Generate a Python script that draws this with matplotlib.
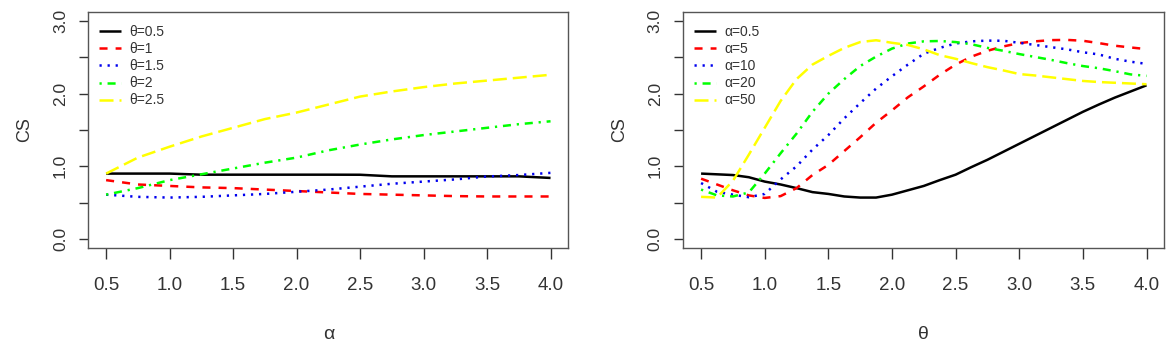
import numpy as np
import matplotlib
matplotlib.use("Agg")
import matplotlib.pyplot as plt
from matplotlib import font_manager as fm

plt.rcParams['lines.scale_dashes'] = False


def pick_font(names):
    for n in names:
        try:
            fm.findfont(fm.FontProperties(family=n), fallback_to_default=False)
            return n
        except Exception:
            pass
    return 'DejaVu Sans'


SANS = pick_font(['Liberation Sans', 'DejaVu Sans'])

# left panel: CS against alpha, one curve per theta
alpha = [0.5, 0.75, 1.0, 1.25, 1.5, 1.75, 2.0, 2.25, 2.5, 2.75, 3.0, 3.25, 3.5, 3.75, 4.0]
theta_labels = ["θ=0.5", "θ=1", "θ=1.5", "θ=2", "θ=2.5"]
cs_theta05 = [0.90, 0.90, 0.90, 0.885, 0.885, 0.885, 0.885, 0.885, 0.884, 0.862, 0.862, 0.862, 0.862, 0.862, 0.84]
cs_theta1 = [0.81, 0.75, 0.73, 0.71, 0.70, 0.68, 0.66, 0.64, 0.62, 0.61, 0.60, 0.59, 0.585, 0.585, 0.585]
cs_theta15 = [0.61, 0.58, 0.57, 0.58, 0.60, 0.62, 0.65, 0.68, 0.72, 0.76, 0.79, 0.82, 0.86, 0.88, 0.91]
cs_theta2 = [0.61, 0.70, 0.81, 0.89, 0.97, 1.05, 1.12, 1.22, 1.30, 1.37, 1.43, 1.48, 1.53, 1.58, 1.62]
cs_theta25 = [0.90, 1.12, 1.27, 1.41, 1.53, 1.65, 1.74, 1.85, 1.96, 2.03, 2.09, 2.14, 2.18, 2.22, 2.26]

# right panel: CS against theta, one curve per alpha
theta = [0.5, 0.625, 0.75, 0.875, 1.0, 1.125, 1.25, 1.375, 1.5, 1.625, 1.75, 1.875, 2.0,
         2.125, 2.25, 2.375, 2.5, 2.625, 2.75, 2.875, 3.0, 3.125, 3.25, 3.375, 3.5,
         3.625, 3.75, 3.875, 4.0]
alpha_labels = ["α=0.5", "α=5", "α=10", "α=20", "α=50"]
cs_alpha05 = [0.90, 0.89, 0.88, 0.85, 0.79, 0.75, 0.70, 0.645, 0.62, 0.585, 0.57, 0.57, 0.61,
              0.67, 0.73, 0.81, 0.885, 0.99, 1.09, 1.20, 1.31, 1.42, 1.53, 1.64, 1.75,
              1.85, 1.945, 2.03, 2.115]
cs_alpha5 = [0.83, 0.75, 0.67, 0.60, 0.565, 0.59, 0.70, 0.88, 1.02, 1.21, 1.40, 1.60, 1.77,
             1.95, 2.10, 2.26, 2.40, 2.51, 2.59, 2.65, 2.696, 2.72, 2.737, 2.74, 2.728,
             2.696, 2.66, 2.636, 2.613]
cs_alpha10 = [0.77, 0.65, 0.61, 0.575, 0.62, 0.82, 1.00, 1.23, 1.43, 1.66, 1.87, 2.07, 2.24,
              2.40, 2.55, 2.63, 2.69, 2.72, 2.73, 2.728, 2.70, 2.67, 2.64, 2.61, 2.57,
              2.54, 2.48, 2.44, 2.41]
cs_alpha20 = [0.68, 0.60, 0.585, 0.64, 0.90, 1.18, 1.45, 1.75, 2.00, 2.20, 2.38, 2.51, 2.62,
              2.69, 2.72, 2.725, 2.71, 2.68, 2.63, 2.59, 2.545, 2.505, 2.465, 2.42, 2.38,
              2.35, 2.31, 2.265, 2.245]
cs_alpha50 = [0.58, 0.57, 0.80, 1.16, 1.53, 1.90, 2.20, 2.40, 2.52, 2.63, 2.71, 2.735, 2.70,
              2.67, 2.61, 2.53, 2.48, 2.42, 2.365, 2.32, 2.27, 2.25, 2.225, 2.20, 2.175,
              2.16, 2.15, 2.14, 2.13]

colors = ["black", "#ff0000", "#0000ee", "#00ff00", "#ffff00"]
# R lty 1..5 with lwd=2, in points (1 px = 0.72 pt)
styles = [(0, ()), (0, (5.8, 5.8)), (0, (1.6, 4.2)), (0, (1.6, 4.2, 5.8, 4.2)), (0, (10.1, 4.3))]
LW = 1.8
TXT = "#333333"

fig = plt.figure(figsize=(11.73, 3.53), dpi=100)
ax1 = fig.add_axes([0.0753, 0.2983, 0.4092, 0.6669])
ax2 = fig.add_axes([0.5825, 0.2983, 0.4101, 0.6669])


def style_axes(ax, xlabel):
    ax.set_xlim(0.36, 4.14)
    ax.set_ylim(-0.12, 3.12)
    for sp in ax.spines.values():
        sp.set_color("#555555")
        sp.set_linewidth(1.0)
    xt = [0.5, 1.0, 1.5, 2.0, 2.5, 3.0, 3.5, 4.0]
    ax.set_xticks(xt)
    ax.set_xticklabels(["%.1f" % v for v in xt], family=SANS, fontsize=13.5, color=TXT)
    yt = [0.0, 0.5, 1.0, 1.5, 2.0, 2.5, 3.0]
    ax.set_yticks(yt)
    ax.set_yticklabels(["%.1f" % v if v == int(v) else "" for v in yt],
                       family=SANS, fontsize=12.5, color=TXT, rotation=90, va="center")
    ax.tick_params(axis="x", length=8, width=1.0, color="#333333", pad=13)
    ax.tick_params(axis="y", length=6.7, width=1.0, color="#333333", pad=8)
    ax.set_ylabel("CS", family=SANS, fontsize=13, color=TXT, labelpad=14)
    ax.set_xlabel(xlabel, family=SANS, fontsize=14, color=TXT, labelpad=23)


series_left = [cs_theta05, cs_theta1, cs_theta15, cs_theta2, cs_theta25]
for ys, lab, c, ls in zip(series_left, theta_labels, colors, styles):
    ax1.plot(alpha, ys, color=c, linestyle=ls, linewidth=LW, label=lab)

series_right = [cs_alpha05, cs_alpha5, cs_alpha10, cs_alpha20, cs_alpha50]
for ys, lab, c, ls in zip(series_right, alpha_labels, colors, styles):
    ax2.plot(theta, ys, color=c, linestyle=ls, linewidth=LW, label=lab)

style_axes(ax1, "α")
style_axes(ax2, "θ")

for ax in (ax1, ax2):
    leg = ax.legend(loc="upper left", bbox_to_anchor=(0.022, 0.945), frameon=False,
                    prop={"family": SANS, "size": 10}, handlelength=1.6,
                    handletextpad=0.6, labelspacing=0.22, borderpad=0, borderaxespad=0)
    for t in leg.get_texts():
        t.set_color(TXT)

fig.savefig("out.png", dpi=100)
